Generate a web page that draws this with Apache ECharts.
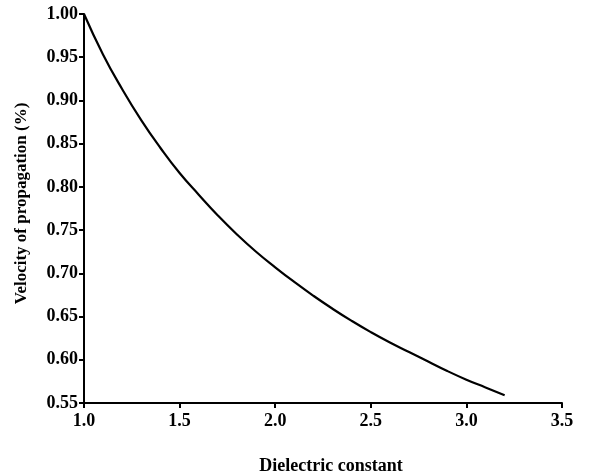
<!DOCTYPE html>
<html><head><meta charset="utf-8">
<script src="https://cdn.jsdelivr.net/npm/echarts@6/dist/echarts.min.js"></script>
<style>html,body{margin:0;padding:0;background:#fff}#c{width:597px;height:474px}</style>
</head><body><div id="c"></div>
<script>
const dielectric = [1.0,1.1,1.2,1.3,1.4,1.5,1.6,1.7,1.8,1.9,2.0,2.1,2.2,2.3,2.4,2.5,2.6,2.7,2.8,2.9,3.0,3.1,3.2];
const velocity = [1.000,0.953,0.913,0.877,0.845,0.816,0.791,0.767,0.745,0.725,0.707,0.690,0.674,0.659,0.645,0.632,0.620,0.609,0.598,0.587,0.577,0.568,0.559];
const xTitle = 'Dielectric constant';
const yTitle = 'Velocity of propagation (%)';
const font = 'Liberation Serif';
const chart = echarts.init(document.getElementById('c'));
chart.setOption({
  animation:false,
  grid:{left:84,right:35,top:14,bottom:71,containLabel:false,outerBoundsMode:'none'},
  xAxis:{type:'value',min:1.0,max:3.5,interval:0.5,
    name:xTitle,nameLocation:'middle',nameGap:54,
    nameTextStyle:{fontFamily:font,fontSize:18,fontWeight:'bold',color:'#000',padding:[0,0,0,16]},
    axisLine:{lineStyle:{color:'#000',width:2}},
    axisTick:{length:5,lineStyle:{color:'#000',width:2}},
    axisLabel:{fontFamily:font,fontSize:18,fontWeight:'bold',color:'#000',margin:9,formatter:v=>v.toFixed(1)},
    splitLine:{show:false}},
  yAxis:{type:'value',min:0.55,max:1.0,interval:0.05,
    name:yTitle,nameLocation:'middle',nameGap:54,
    nameTextStyle:{fontFamily:font,fontSize:17,fontWeight:'bold',color:'#000',padding:[0,0,0,10]},
    axisLine:{show:true,lineStyle:{color:'#000',width:2}},
    axisTick:{show:true,length:5,lineStyle:{color:'#000',width:2}},
    axisLabel:{fontFamily:font,fontSize:18,fontWeight:'bold',color:'#000',margin:6,formatter:v=>v.toFixed(2)},
    splitLine:{show:false}},
  series:[{type:'line',data:dielectric.map((d,i)=>[d,velocity[i]]),smooth:true,showSymbol:false,
    lineStyle:{color:'#000',width:2.2}}]
});
</script></body></html>
